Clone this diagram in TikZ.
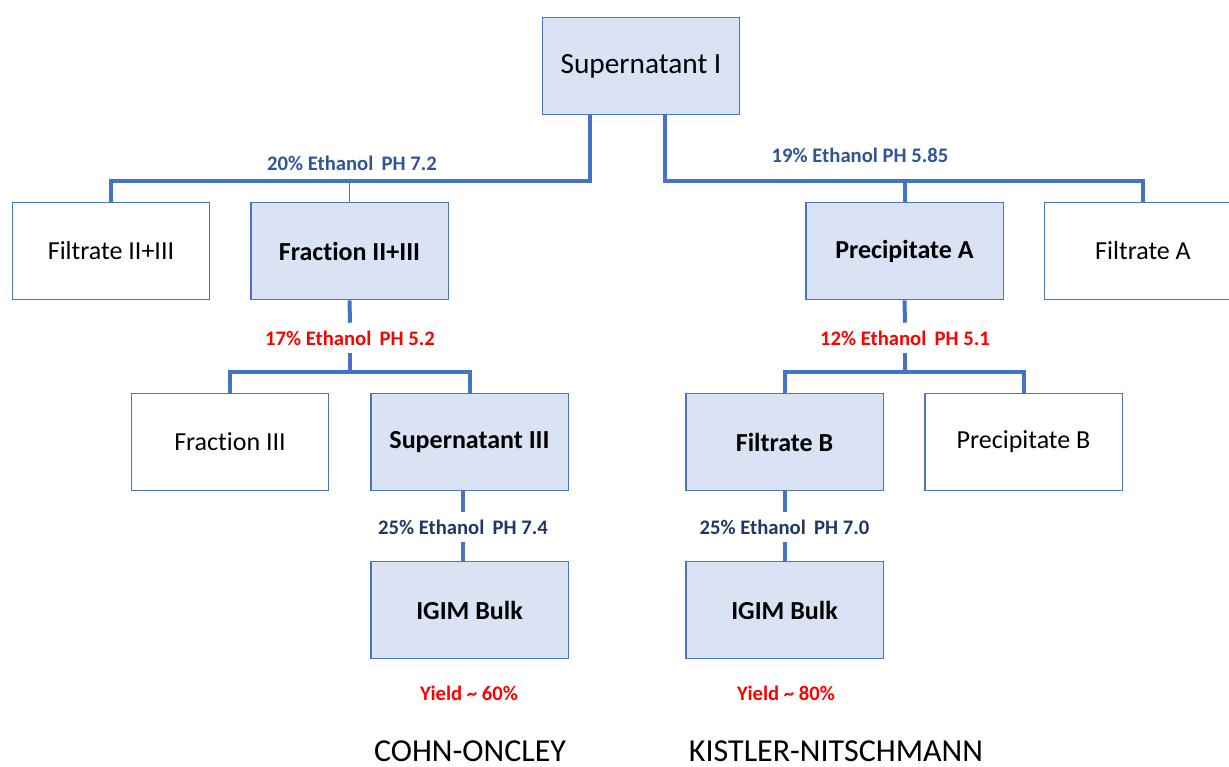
\documentclass[tikz,border=0pt]{standalone}
\usepackage{fontspec}
\setmainfont{Carlito}[Ligatures=NoCommon]

\definecolor{linkblue}{HTML}{4472C4}
\definecolor{boxline}{HTML}{4A76C0}
\definecolor{boxfill}{HTML}{DAE3F3}
\definecolor{labelblue}{HTML}{2F5597}
\definecolor{labelnavy}{HTML}{203864}
\definecolor{labelred}{HTML}{FF0000}

\begin{document}
\begin{tikzpicture}[
			x=0.75pt, y=-0.75pt, % pixel grid of the original slide
			box/.style={draw=boxline, line width=1pt, minimum width=148pt, minimum height=73pt, inner sep=0pt},
			whitebox/.style={box, fill=white, font=\fontsize{19.5}{22}\selectfont},
			bluebox/.style={box, fill=boxfill, font=\fontsize{19.5}{22}\selectfont\bfseries},
			link/.style={draw=linkblue, line width=3pt},
			thinlink/.style={draw=linkblue, line width=1pt},
			cond/.style={font=\fontsize{15.5}{18}\selectfont\bfseries, inner sep=0pt, minimum height=22.5pt},
			method/.style={font=\fontsize{24}{28}\selectfont, anchor=base}
			]
			\clip (0,0) rectangle (1229,767);

			% boxes
			\node[box, fill=boxfill, font=\fontsize{22}{26}\selectfont] (sup1) at (641,66) {Supernatant I};
			\node[whitebox] (fil23) at (111,251) {Filtrate II+III};
			\node[bluebox] (fra23) at (349.5,251) {Fraction II+III};
			\node[bluebox] (preA) at (904.5,251) {Precipitate A};
			\node[whitebox] (filA) at (1143,251) {Filtrate A};
			\node[whitebox] (fr3) at (230,442) {Fraction III};
			\node[bluebox] (sup3) at (469.5,442) {Supernatant III};
			\node[bluebox] (filB) at (784.5,442) {Filtrate B};
			\node[whitebox] (preB) at (1023.5,442) {Precipitate B};
			\node[bluebox] (igL) at (469.5,610) {IGIM Bulk};
			\node[bluebox] (igR) at (784.5,610) {IGIM Bulk};

			% conditions
			\node[cond, text=labelblue] (c20) at (352,163) {20\% Ethanol\hspace{0.4em}PH 7.2};
			\node[cond, text=labelblue] (c19) at (860,155) {19\% Ethanol PH 5.85};
			\node[cond, text=labelred] (c17) at (350,338) {17\% Ethanol\hspace{0.4em}PH 5.2};
			\node[cond, text=labelred] (c12) at (905,338) {12\% Ethanol\hspace{0.4em}PH 5.1};
			\node[cond, text=labelnavy] (c25a) at (463,527) {25\% Ethanol\hspace{0.4em}PH 7.4};
			\node[cond, text=labelnavy] (c25b) at (784.5,527) {25\% Ethanol\hspace{0.4em}PH 7.0};
			\node[cond, text=labelred] (y60) at (469,693) {Yield \textasciitilde{} 60\%};
			\node[cond, text=labelred] (y80) at (786,693) {Yield \textasciitilde{} 80\%};

			\node[method] (cohn) at (470,761) {COHN-ONCLEY};
			\node[method] (kist) at (836,761) {KISTLER-NITSCHMANN};

			% first split
			\draw[link] (sup1.south) ++(-51,0) -- ++(0,66) -| (fil23.north);
			\draw[thinlink] (fra23.north) -- ++(0,-21);
			\draw[link] (sup1.south) ++(24,0) -- ++(0,66) -| (filA.north);
			\draw[link] (preA.north) -- ++(0,-21);

			% second split
			\draw[link] (fra23.south) -- (c17.north);
			\draw[link] (c17.south) -- ++(0,19);
			\draw[link] (fr3.north) -- ++(0,-21) -| (sup3.north);
			\draw[link] (preA.south) -- (c12.north);
			\draw[link] (c12.south) -- ++(0,19);
			\draw[link] (filB.north) -- ++(0,-21) -| (preB.north);

			% bulk
			\draw[link] (sup3.south -| c25a) -- (c25a.north);
			\draw[link] (c25a.south) -- (igL.north -| c25a);
			\draw[link] (filB.south) -- (c25b.north);
			\draw[link] (c25b.south) -- (igR.north);
		\end{tikzpicture}
\end{document}
